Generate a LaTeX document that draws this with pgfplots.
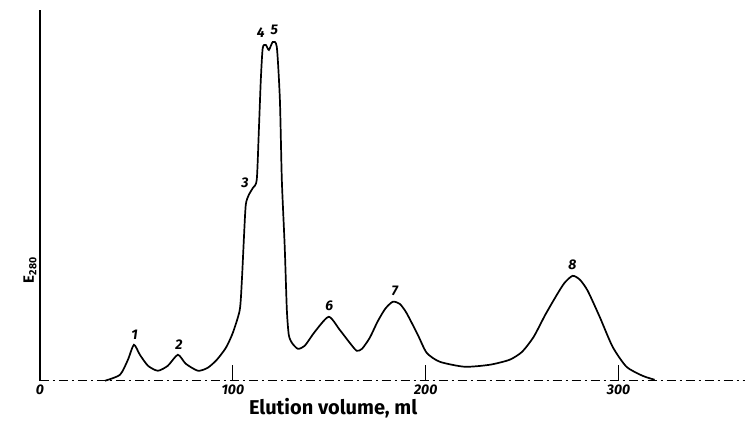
\documentclass[border=0pt]{standalone}
\usepackage{pgfplots}
\pgfplotsset{compat=1.18}
\usepackage{fontspec}
\setmainfont{Fira Sans}
\begin{document}
\begin{tikzpicture}
\begin{axis}[
  scale only axis,
  width=705pt, height=371pt,
  xmin=0, xmax=365.3, ymin=0, ymax=371,
  axis x line=bottom, axis y line=left,
  axis line style={-, line width=1.2pt},
  x axis line style={dash pattern=on 9pt off 4pt on 2pt off 4pt, line width=1pt},
  xtick={0,100,200,300},
  ytick=\empty,
  xtick align=inside,
  major tick length=16pt,
  xtick style={line width=1pt, black},
  xticklabel style={font=\bfseries\itshape\fontsize{14}{14}\selectfont, yshift=-1pt},
  /pgf/number format/assume math mode=true,
  xlabel={\bfseries Elution volume, ml},
  xlabel style={font=\fontsize{20}{20}\selectfont, at={(axis cs:152,0)}, anchor=north, yshift=-14pt},
  ylabel={\bfseries E\textsubscript{280}},
  ylabel style={font=\fontsize{15}{15}\selectfont, at={(rel axis cs:0,0.32)}, anchor=south, xshift=-8pt},
  clip=false,
]
\addplot[black, line width=1.7pt, smooth, tension=0.4] coordinates {
(33.7,0) (41.5,6) (45.6,21) (48.7,36) (51.8,26) (56,15) (61.1,10) (66.3,15)
(71.5,26) (75.6,17) (81.9,10) (87,13) (91.7,21) (96.4,33) (100,48) (103.6,71)
(104.7,101) (105.7,141) (106.7,176) (108.3,186) (110.4,193) (112.4,201)
(113.5,251) (114.5,301) (115.5,333) (117.1,336) (118.7,331) (120.7,339)
(122.8,334) (124.4,281) (125.4,201) (126.9,134) (128,71) (129,46) (130.6,38)
(133.7,32) (137.3,35) (142.5,49) (149.7,64) (155.4,51) (160.6,38) (164.2,30)
(167,32) (171,43) (175,59) (179,72) (182.9,79) (186.5,77) (190,68)
(195.9,46) (200.5,28) (207.3,19)
(220.2,14) (233.2,16) (243.5,21) (250,29) (256,44) (262,66) (268,86) (272,98)
(276.2,105) (280,101) (284,90) (290.2,64) (296.9,34) (304.1,14) (312.4,5) (318.7,1)
};
\node[font=\bfseries\itshape\fontsize{14}{14}\selectfont, anchor=south] at (axis cs:49,38) {1};
\node[font=\bfseries\itshape\fontsize{14}{14}\selectfont, anchor=south] at (axis cs:72,28) {2};
\node[font=\bfseries\itshape\fontsize{14}{14}\selectfont, anchor=south east] at (axis cs:110,190) {3};
\node[font=\bfseries\itshape\fontsize{14}{14}\selectfont, anchor=south] at (axis cs:114.5,340) {4};
\node[font=\bfseries\itshape\fontsize{14}{14}\selectfont, anchor=south] at (axis cs:121.5,343) {5};
\node[font=\bfseries\itshape\fontsize{14}{14}\selectfont, anchor=south] at (axis cs:150,67) {6};
\node[font=\bfseries\itshape\fontsize{14}{14}\selectfont, anchor=south] at (axis cs:184,82) {7};
\node[font=\bfseries\itshape\fontsize{14}{14}\selectfont, anchor=south] at (axis cs:276,108) {8};
\end{axis}
\path (-40pt,-40pt) rectangle (705pt,381pt);
\end{tikzpicture}
\end{document}
